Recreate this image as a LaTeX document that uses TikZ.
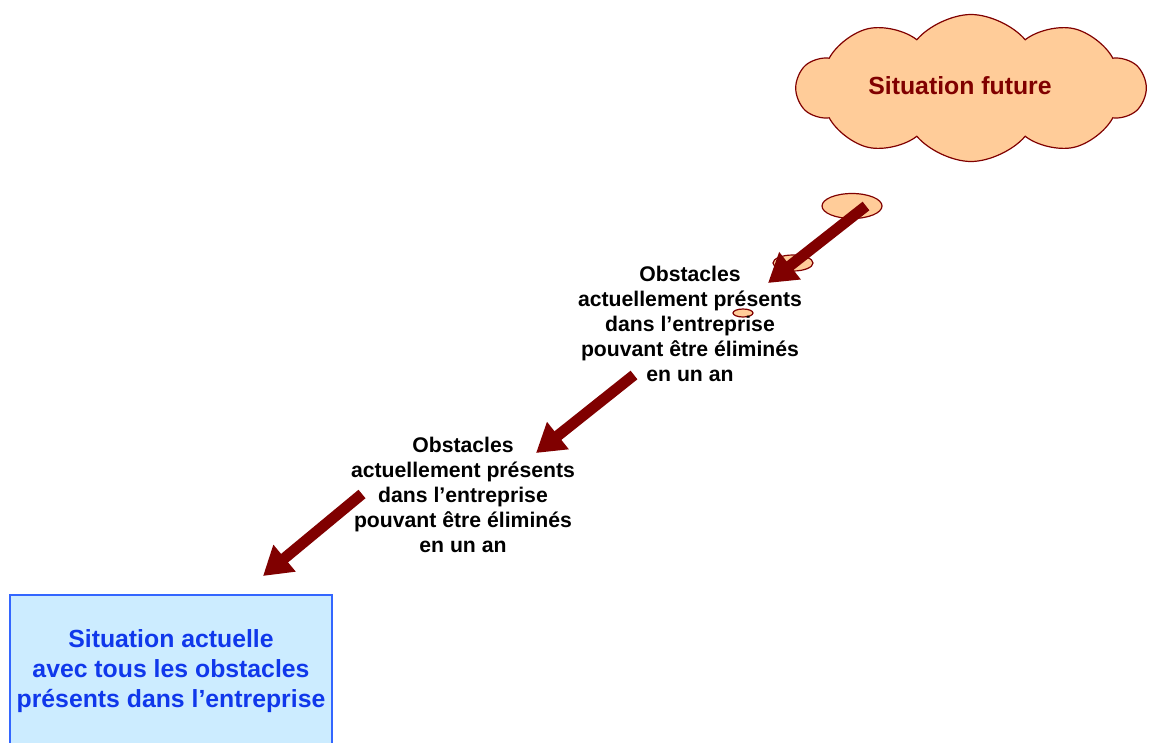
\documentclass[tikz,border=0pt]{standalone}
\usepackage{fontspec}
\setmainfont{Liberation Sans}
\usetikzlibrary{shapes.symbols,shapes.geometric,arrows.meta}

\definecolor{darkred}{RGB}{128,0,0}
\definecolor{peach}{RGB}{255,204,153}
\definecolor{paleblue}{RGB}{204,236,255}
\definecolor{boxblue}{RGB}{51,102,255}
\definecolor{textblue}{RGB}{16,56,235}

\tikzset{every picture/.style={line width=0.75pt}}
\tikzset{
  bubble/.style={ellipse,draw=darkred,fill=peach,line width=1.2pt,inner sep=0pt},
  steparrow/.style={darkred,line width=11pt,-{Triangle[width=33pt,length=28pt]}},
  obstacletext/.style={align=center,inner sep=0.75pt,font=\bfseries\fontsize{21.2}{25}\selectfont}
}

\begin{document}
\begin{tikzpicture}[x=1pt,y=1pt,yscale=-1,xscale=1]
\useasboundingbox (0,0) rectangle (1150,742);
\clip (0,0) rectangle (1150,742);

%Cloud [id:future]
\draw (971,88) node (future) [cloud,cloud puffs=10,cloud puff arc=100,cloud ignores aspect,minimum width=348pt,minimum height=147pt,draw=darkred,fill=peach,line width=1.2pt,text=darkred,font=\bfseries\fontsize{24.8}{30}\selectfont,inner sep=0pt] {\hspace*{-22pt}\raisebox{5pt}{Situation future}};

%Thought bubbles
\draw (852,206) node (bubbleA) [bubble,minimum width=60pt,minimum height=25pt] {};
\draw (793,263) node (bubbleB) [bubble,minimum width=40pt,minimum height=16pt] {};
\draw (743,313) node (bubbleC) [bubble,minimum width=20pt,minimum height=8pt] {};

% Text Node
\draw (690,324) node (obstA) [obstacletext] {Obstacles\\actuellement présents\\dans l’entreprise\\pouvant être éliminés\\en un an};
% Text Node
\draw (463,495) node (obstB) [obstacletext] {Obstacles\\actuellement présents\\dans l’entreprise\\pouvant être éliminés\\en un an};

%Rectangle [id:present]
\draw (171,671) node (present) [rectangle,draw=boxblue,fill=paleblue,line width=1.2pt,minimum width=322pt,minimum height=152pt,align=center,text=textblue,font=\bfseries\fontsize{24.8}{30}\selectfont] {Situation actuelle\\avec tous les obstacles\\présents dans l’entreprise};

%Arrow ends
\coordinate (tailA) at (866,206);
\coordinate (tipA) at (768,283);
\coordinate (tailB) at (634,375);
\coordinate (tipB) at (536,453);
\coordinate (tailC) at (362,494);
\coordinate (tipC) at (263,576);

%Straight Lines
\draw [steparrow] (tailA) -- (tipA);
\draw [steparrow] (tailB) -- (tipB);
\draw [steparrow] (tailC) -- (tipC);

\end{tikzpicture}
\end{document}
